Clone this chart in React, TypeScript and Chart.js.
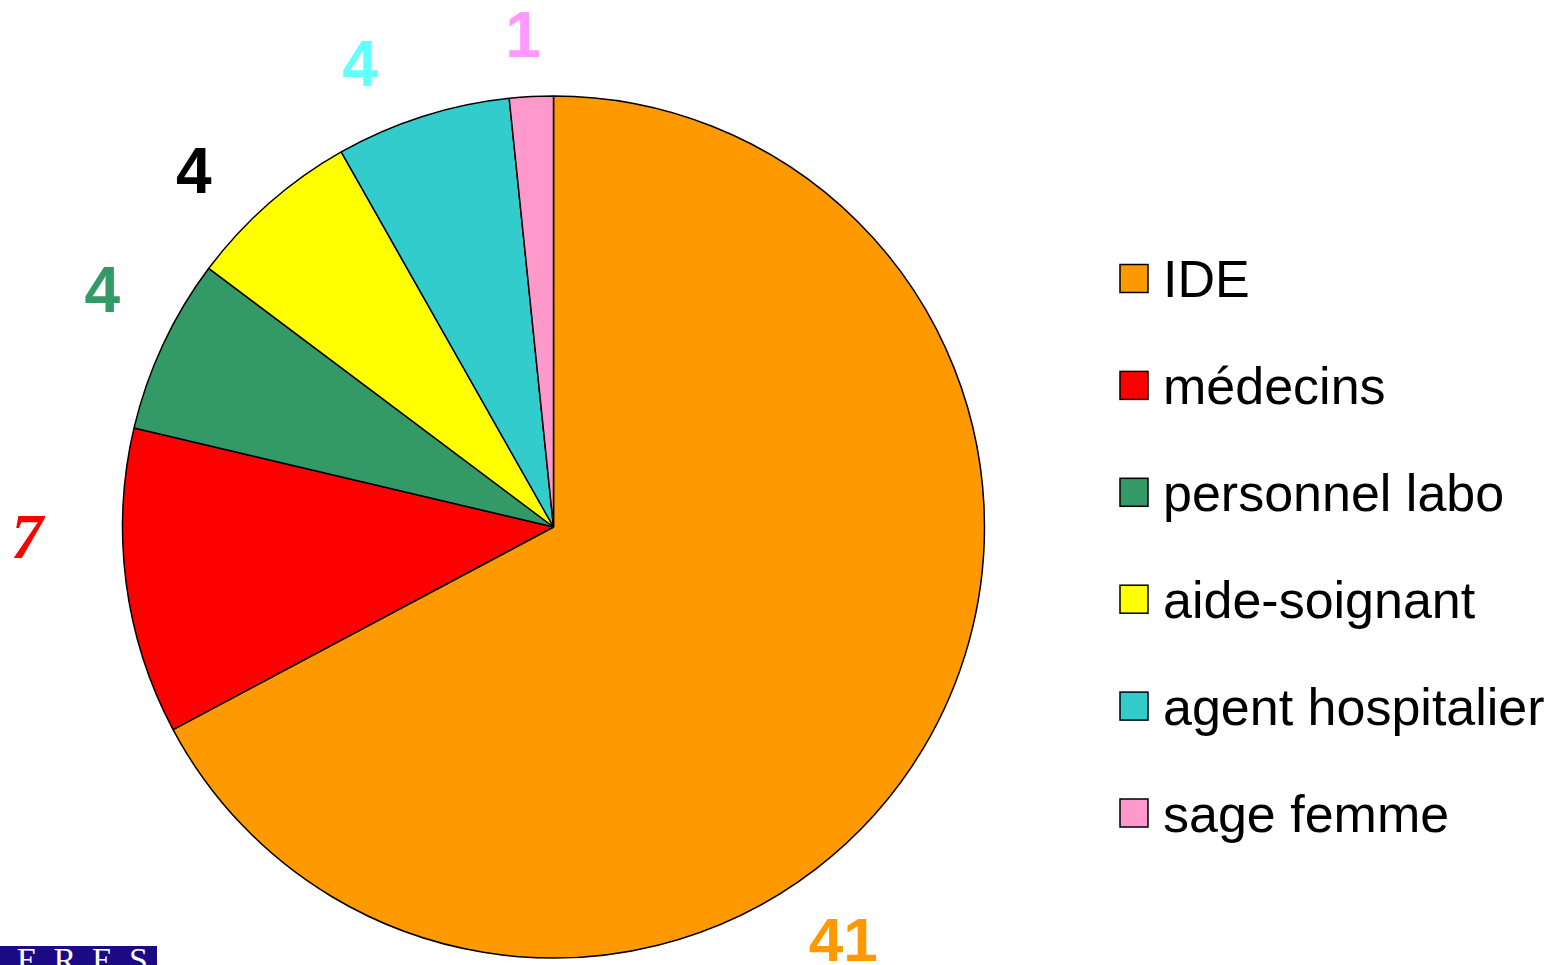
import React, { useEffect, useRef } from "react";
import { Chart, registerables } from "chart.js";

Chart.register(...registerables);

const categories = ["IDE", "médecins", "personnel labo", "aide-soignant", "agent hospitalier", "sage femme"];
const values = [41, 7, 4, 4, 4, 1];
const sliceColors = ["#FF9900", "#FF0000", "#339966", "#FFFF00", "#33CCCC", "#FF99CC"];
const labelColors = ["#FF9900", "#FF0000", "#339966", "#000000", "#66FFFF", "#FF99FF"];

// label placement relative to each slice's mid-angle (degrees) and outer radius
const labelAngleNudge = [23.9, 6.4, 2.7, -3.9, -4.9, -0.6];
const labelRadiusFactor = [1.169, 1.222, 1.183, 1.176, 1.167, 1.145];
const labelFonts = [
  "bold 62px 'Liberation Sans', Arial, sans-serif",
  "italic bold 64px 'Liberation Serif', 'Times New Roman', serif",
  "bold 64px 'Liberation Sans', Arial, sans-serif",
  "bold 64px 'Liberation Sans', Arial, sans-serif",
  "bold 64px 'Liberation Sans', Arial, sans-serif",
  "bold 64px 'Liberation Sans', Arial, sans-serif",
];
const labelCapHeights = [44.4, 43.3, 45.8, 45.8, 45.8, 45.8];

const valueLabelsPlugin = {
  id: "valueLabels",
  afterDatasetsDraw(chart: any) {
    const ctx = chart.ctx;
    const meta = chart.getDatasetMeta(0);
    const data = chart.data.datasets[0].data;
    meta.data.forEach((arc: any, i: number) => {
      const { startAngle, endAngle, x, y, outerRadius } = arc.getProps(
        ["startAngle", "endAngle", "x", "y", "outerRadius"],
        true
      );
      const mid = (startAngle + endAngle) / 2 + (labelAngleNudge[i] * Math.PI) / 180;
      const r = outerRadius * labelRadiusFactor[i];
      const lx = x + Math.cos(mid) * r;
      const ly = y + Math.sin(mid) * r;
      ctx.save();
      ctx.font = labelFonts[i];
      ctx.fillStyle = labelColors[i];
      ctx.textAlign = "center";
      ctx.textBaseline = "alphabetic";
      ctx.fillText(String(data[i]), lx, ly + labelCapHeights[i] / 2);
      ctx.restore();
    });
  },
};

const legendPlugin = {
  id: "sideLegend",
  afterDraw(chart: any) {
    const o = chart.options.plugins.sideLegend;
    const ctx = chart.ctx;
    const labels = chart.data.labels;
    const colors = chart.data.datasets[0].backgroundColor;
    ctx.save();
    labels.forEach((lab: string, i: number) => {
      const cy = o.top + i * o.spacing;
      ctx.fillStyle = colors[i];
      ctx.fillRect(o.left, cy - o.box / 2, o.box, o.box);
      ctx.strokeStyle = "#000000";
      ctx.lineWidth = 1.5;
      ctx.strokeRect(o.left, cy - o.box / 2, o.box, o.box);
      ctx.font = `${o.fontSize}px 'Liberation Sans', Arial, sans-serif`;
      ctx.fillStyle = "#000000";
      ctx.textAlign = "left";
      ctx.textBaseline = "alphabetic";
      ctx.fillText(lab, o.textLeft, cy + (o.fontSize * 0.716) / 2);
    });
    ctx.restore();
  },
};

export default function App() {
  const ref = useRef<HTMLCanvasElement | null>(null);

  useEffect(() => {
    document.body.style.margin = "0";
    document.body.style.background = "#ffffff";
    const canvas = ref.current;
    if (!canvas) return;
    const chart = new Chart(canvas, {
      type: "pie",
      data: {
        labels: categories,
        datasets: [
          {
            data: values,
            backgroundColor: sliceColors,
            borderColor: "#000000",
            borderWidth: 1.5,
          },
        ],
      },
      options: {
        responsive: false,
        animation: false,
        devicePixelRatio: 1,
        radius: 431,
        layout: { padding: { left: 122, right: 571, top: 96, bottom: 7 } },
        plugins: {
          legend: { display: false },
          tooltip: { enabled: false },
          sideLegend: { left: 1120, top: 278.5, spacing: 106.9, box: 28, textLeft: 1163, fontSize: 52 },
        } as any,
      },
      plugins: [valueLabelsPlugin, legendPlugin],
    });
    return () => chart.destroy();
  }, []);

  return (
    <div style={{ position: "relative", width: 1556, height: 965, overflow: "hidden", background: "#fff" }}>
      <canvas ref={ref} width={1556} height={965} style={{ display: "block" }} />
      <div
        style={{
          position: "absolute",
          left: 0,
          top: 946,
          width: 157,
          height: 19,
          background: "#1C0A85",
          overflow: "hidden",
        }}
      >
        <div
          style={{
            position: "absolute",
            left: -22,
            top: -3,
            color: "#ffffff",
            fontFamily: "'Liberation Serif', 'Times New Roman', serif",
            fontSize: 34,
            lineHeight: "34px",
            letterSpacing: "16px",
            whiteSpace: "nowrap",
          }}
        >
          CERES
        </div>
      </div>
    </div>
  );
}
